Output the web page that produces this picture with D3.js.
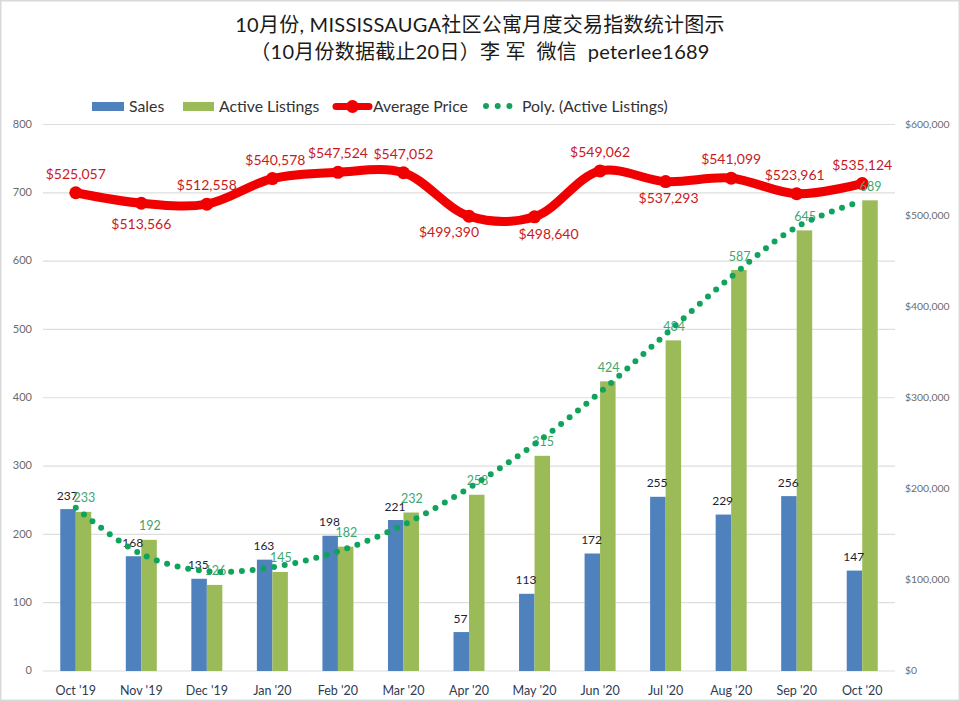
<!DOCTYPE html>
<html><head><meta charset="utf-8">
<script src="https://cdn.jsdelivr.net/npm/d3@7"></script>
<style>
html,body{margin:0;padding:0;background:#fff}
text{font-family:Lato,"Noto Sans CJK SC",sans-serif;white-space:pre}
</style></head><body><svg id="c" width="960" height="701"></svg>
<script>
const months=["Oct '19","Nov '19","Dec '19","Jan '20","Feb '20","Mar '20","Apr '20","May '20","Jun '20","Jul '20","Aug '20","Sep '20","Oct '20"];
const sales=[237,168,135,163,198,221,57,113,172,255,229,256,147];
const listings=[233,192,126,145,182,232,258,315,424,484,587,645,689];
const prices=[525057,513566,512558,540578,547524,547052,499390,498640,549062,537293,541099,523961,535124];
const trend=[239,171,146,152,175,214,268,332,408,493,577,650,688];
const leftTicks=[0,100,200,300,400,500,600,700,800];
const rightTicks=[0,100000,200000,300000,400000,500000,600000];
const titleLines=["10月份, MISSISSAUGA社区公寓月度交易指数统计图示","（10月份数据截止20日）李 军  微信  peterlee1689"];

const svg=d3.select("#c");
svg.append("rect").attr("x",0.75).attr("y",0.75).attr("width",958.5).attr("height",699.5).attr("fill","#fff").attr("stroke","#d9d9d9").attr("stroke-width",1.5);
const L=43,R=895,T=124.5,B=671;
const x=d3.scaleBand().domain(months).range([L,R]);
const y=d3.scaleLinear().domain([0,800]).range([B,T]);
const y2=d3.scaleLinear().domain([0,600000]).range([B,T]);
const cx=m=>x(m)+x.bandwidth()/2;
const bw=15.5;

svg.append("g").selectAll("line").data(leftTicks).join("line")
 .attr("x1",L).attr("x2",R).attr("y1",d=>y(d)).attr("y2",d=>y(d)).attr("stroke","#dedede").attr("stroke-width",1.2);

const gl=svg.append("g").attr("transform",`translate(${L-11},0.5)`).call(d3.axisLeft(y).tickValues(leftTicks).tickSize(0).tickPadding(0));
gl.select(".domain").remove();
gl.selectAll("text").attr("font-size",11).attr("fill","#6b6b6b").attr("dy","0.2em");
const gr=svg.append("g").attr("transform",`translate(905,0.5)`).call(d3.axisRight(y2).tickValues(rightTicks).tickSize(0).tickPadding(0).tickFormat(d=>"$"+d3.format(",")(d)));
gr.select(".domain").remove();
gr.selectAll("text").attr("font-size",10.4).attr("fill","#6b6b6b").attr("dy","0.2em");
const gb=svg.append("g").attr("transform",`translate(0,${B})`).call(d3.axisBottom(x).tickSize(0).tickPadding(15));
gb.select(".domain").remove();
gb.selectAll("text").attr("font-size",12.5).attr("fill","#2f3b55");

svg.append("g").selectAll("rect").data(months).join("rect")
 .attr("x",d=>cx(d)-bw).attr("width",bw).attr("y",(d,i)=>y(sales[i])).attr("height",(d,i)=>B-y(sales[i])).attr("fill","#4f81bd");
svg.append("g").selectAll("rect").data(months).join("rect")
 .attr("x",d=>cx(d)).attr("width",bw).attr("y",(d,i)=>y(listings[i])).attr("height",(d,i)=>B-y(listings[i])).attr("fill","#9bbb59");

const line=d3.line().curve(d3.curveCatmullRom.alpha(0.5));
svg.append("path").attr("d",line(months.map((m,i)=>[cx(m),y2(prices[i])]))).attr("fill","none").attr("stroke","#f00000").attr("stroke-width",9).attr("stroke-linejoin","round");
svg.append("g").selectAll("circle").data(months).join("circle").attr("cx",cx).attr("cy",(d,i)=>y2(prices[i])).attr("r",6.5).attr("fill","#f00000");

svg.append("g").selectAll("text").data(months).join("text")
 .attr("x",d=>cx(d)-8.5).attr("y",(d,i)=>y(sales[i])-9.5).attr("text-anchor","middle").attr("font-size",12).attr("fill","#1c2233").text((d,i)=>sales[i]);
svg.append("g").selectAll("text").data(months).join("text")
 .attr("x",d=>cx(d)+8.5).attr("y",(d,i)=>y(listings[i])-9.5).attr("text-anchor","middle").attr("font-size",12.5).attr("fill","#3fa66f").text((d,i)=>listings[i]);

svg.append("path").attr("d",line(months.map((m,i)=>[cx(m),y(trend[i])]))).attr("fill","none")
 .attr("stroke","#10a35c").attr("stroke-width",6).attr("stroke-linecap","round").attr("stroke-dasharray","0 10.8");

const labelDx=[0,0,0,3,0,0,-20,14,0,3,0,-2,0];
const labelDy=[-14,26,-14,-14,-14,-14,21,22,-14,21,-14,-14,-14];
svg.append("g").selectAll("text").data(months).join("text")
 .attr("x",(d,i)=>cx(d)+labelDx[i]).attr("y",(d,i)=>y2(prices[i])+labelDy[i])
 .attr("text-anchor","middle").attr("font-size",14).attr("fill","#c8191f").text((d,i)=>"$"+d3.format(",")(prices[i]));

const lg=svg.append("g");
lg.append("rect").attr("x",92).attr("y",102).attr("width",32).attr("height",9).attr("fill","#4f81bd");
lg.append("text").attr("x",129).attr("y",112).attr("font-size",15.8).attr("fill","#333").text("Sales");
lg.append("rect").attr("x",183).attr("y",102).attr("width",31).attr("height",9).attr("fill","#9bbb59");
lg.append("text").attr("x",219).attr("y",112).attr("font-size",15.8).attr("fill","#333").text("Active Listings");
lg.append("line").attr("x1",336).attr("x2",369).attr("y1",106.5).attr("y2",106.5).attr("stroke","#f00000").attr("stroke-width",7).attr("stroke-linecap","round");
lg.append("circle").attr("cx",352.5).attr("cy",106.5).attr("r",6.5).attr("fill","#f00000");
lg.append("text").attr("x",373).attr("y",112).attr("font-size",15.8).attr("fill","#333").text("Average Price");
lg.append("line").attr("x1",486).attr("x2",510).attr("y1",106).attr("y2",106).attr("stroke","#10a35c").attr("stroke-width",6).attr("stroke-linecap","round").attr("stroke-dasharray","0 11.7");
lg.append("text").attr("x",522).attr("y",112).attr("font-size",15.8).attr("fill","#333").text("Poly. (Active Listings)");

svg.append("g").selectAll("text").data(titleLines).join("text")
 .attr("x",480).attr("y",(d,i)=>32+i*27).attr("text-anchor","middle").attr("font-size",20).attr("letter-spacing",0.25).attr("fill","#1a1a1a").text(d=>d);
</script></body></html>
